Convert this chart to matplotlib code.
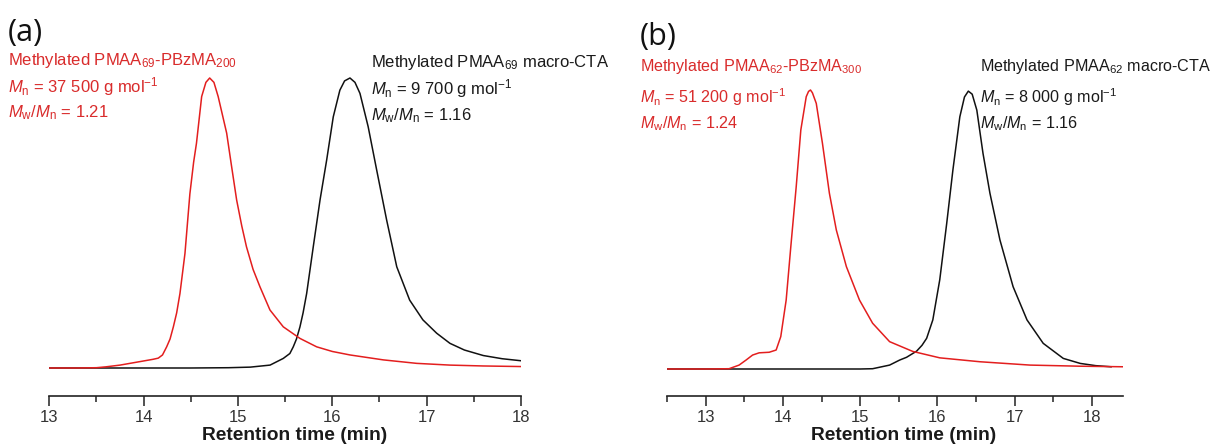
import matplotlib
matplotlib.use("Agg")
import matplotlib.pyplot as plt

# ---- data ----
a_red_t = [13.0, 13.3, 13.5, 13.6, 13.75, 13.96, 14.1, 14.155, 14.2, 14.244, 14.28, 14.315,
           14.35, 14.385, 14.438, 14.49, 14.53, 14.56, 14.615, 14.66, 14.70, 14.745, 14.79,
           14.83, 14.88, 14.93, 14.986, 15.04, 15.09, 15.16, 15.233, 15.339, 15.48, 15.657,
           15.834, 16.0, 16.187, 16.54, 16.894, 17.247, 17.6, 18.0]
a_red_y = [0, 0, 0.001, 0.004, 0.01, 0.022, 0.03, 0.034, 0.045, 0.073, 0.10, 0.142,
           0.19, 0.257, 0.395, 0.60, 0.71, 0.775, 0.936, 0.985, 1.0, 0.985, 0.936,
           0.88, 0.81, 0.70, 0.579, 0.49, 0.418, 0.34, 0.28, 0.20, 0.142, 0.102,
           0.073, 0.057, 0.045, 0.028, 0.016, 0.01, 0.007, 0.005]

a_blk_t = [13.0, 14.5, 14.9, 15.13, 15.34, 15.48, 15.55, 15.586, 15.62, 15.657, 15.69, 15.728,
           15.798, 15.87, 15.94, 16.01, 16.08, 16.13, 16.187, 16.24, 16.293, 16.38, 16.47,
           16.576, 16.683, 16.82, 16.96, 17.106, 17.247, 17.4, 17.6, 17.8, 18.0]
a_blk_y = [0, 0, 0.001, 0.003, 0.01, 0.033, 0.05, 0.073, 0.1, 0.142, 0.19, 0.257,
           0.418, 0.58, 0.717, 0.866, 0.958, 0.99, 1.0, 0.985, 0.947, 0.832, 0.683,
           0.51, 0.349, 0.234, 0.166, 0.12, 0.085, 0.062, 0.043, 0.032, 0.025]

b_red_t = [12.5, 13.0, 13.3, 13.43, 13.52, 13.605, 13.69, 13.82, 13.91, 13.97, 14.04, 14.1,
           14.17, 14.23, 14.3, 14.33, 14.355, 14.38, 14.43, 14.51, 14.6, 14.69, 14.82, 14.99,
           15.16, 15.38, 15.68, 16.03, 16.55, 17.2, 17.85, 18.4]
b_red_y = [0, 0, 0.001, 0.014, 0.032, 0.05, 0.058, 0.06, 0.068, 0.116, 0.247, 0.438,
           0.653, 0.857, 0.976, 0.995, 1.0, 0.99, 0.952, 0.809, 0.63, 0.498, 0.367, 0.247,
           0.164, 0.098, 0.063, 0.04, 0.026, 0.014, 0.01, 0.008]

b_blk_t = [12.5, 15.0, 15.16, 15.38, 15.51, 15.6, 15.73, 15.8, 15.86, 15.94, 16.03, 16.12,
           16.2, 16.29, 16.35, 16.4, 16.45, 16.51, 16.59, 16.68, 16.81, 16.98, 17.16, 17.37,
           17.63, 17.85, 18.05, 18.25]
b_blk_y = [0, 0, 0.001, 0.014, 0.032, 0.042, 0.064, 0.085, 0.11, 0.176, 0.32, 0.522,
           0.713, 0.904, 0.975, 0.996, 0.985, 0.928, 0.773, 0.63, 0.462, 0.295, 0.176, 0.092,
           0.038, 0.02, 0.012, 0.008]

a_ticks = [13, 14, 15, 16, 17, 18]
b_ticks = [13, 14, 15, 16, 17, 18]
xlabel = "Retention time (min)"

a_red_lines = [r"Methylated PMAA$_{69}$-PBzMA$_{200}$",
               r"$M_{\rm n}$ = 37 500 g mol$^{-1}$",
               r"$M_{\rm w}$/$M_{\rm n}$ = 1.21"]
a_blk_lines = [r"Methylated PMAA$_{69}$ macro-CTA",
               r"$M_{\rm n}$ = 9 700 g mol$^{-1}$",
               r"$M_{\rm w}$/$M_{\rm n}$ = 1.16"]
b_red_lines = [r"Methylated PMAA$_{62}$-PBzMA$_{300}$",
               r"$M_{\rm n}$ = 51 200 g mol$^{-1}$",
               r"$M_{\rm w}$/$M_{\rm n}$ = 1.24"]
b_blk_lines = [r"Methylated PMAA$_{62}$ macro-CTA",
               r"$M_{\rm n}$ = 8 000 g mol$^{-1}$",
               r"$M_{\rm w}$/$M_{\rm n}$ = 1.16"]

# ---- style ----
plt.rcParams['font.family'] = ['Liberation Sans', 'DejaVu Sans']
plt.rcParams['mathtext.fontset'] = 'custom'
plt.rcParams['mathtext.rm'] = 'Liberation Sans'
plt.rcParams['mathtext.it'] = 'Liberation Sans:italic'
plt.rcParams['mathtext.bf'] = 'Liberation Sans:bold'

RED_LINE = '#E31E1E'
RED_TXT = '#D92B2B'
BLK_TXT = '#1A1A1A'

W, H = 1212, 448
fig = plt.figure(figsize=(W / 100, H / 100), dpi=100)

def px_axes(x0, x1, ytop, ybot):
    return fig.add_axes([x0 / W, 1 - ybot / H, (x1 - x0) / W, (ybot - ytop) / H])

def style_axes(ax, xlim, ticks, base_px, peak_px, ytop, ybot, label_x):
    ax.set_xlim(*xlim)
    h = base_px - peak_px
    ax.set_ylim(-(ybot - base_px) / h, (base_px - ytop) / h)
    for s in ['left', 'right', 'top']:
        ax.spines[s].set_visible(False)
    ax.spines['bottom'].set_linewidth(1.2)
    ax.spines['bottom'].set_color('#222222')
    ax.set_yticks([])
    ax.set_xticks(ticks)
    ax.set_xticks([t + 0.5 for t in range(int(xlim[0]), int(xlim[1]) + 1)
                   if xlim[0] <= t + 0.5 <= xlim[1]], minor=True)
    ax.tick_params(axis='x', which='major', direction='out', length=7, width=1.1,
                   labelsize=12, labelcolor='#333333', color='#222222', pad=3)
    ax.tick_params(axis='x', which='minor', direction='out', length=4, width=1.1,
                   color='#222222')
    ax.set_xlabel(xlabel, fontsize=13.8, fontweight='bold', color='#1A1A1A')
    ax.xaxis.set_label_coords(label_x, -0.092)
    ax.patch.set_alpha(0)

ytop, ybot = 60, 396

# panel (a)
axa = px_axes(49.3, 521.0, ytop, ybot)
axa.plot(a_blk_t, a_blk_y, color='#111111', lw=1.1)
axa.plot(a_red_t, a_red_y, color=RED_LINE, lw=1.1)
style_axes(axa, (13, 18), a_ticks, 368, 78, ytop, ybot, 0.521)

# panel (b)
axb = px_axes(667.3, 1122.7, ytop, ybot)
axb.plot(b_blk_t, b_blk_y, color='#111111', lw=1.1)
axb.plot(b_red_t, b_red_y, color=RED_LINE, lw=1.1)
style_axes(axb, (12.5, 18.4), b_ticks, 369, 90, ytop, ybot, 0.52)

# ---- texts (figure pixel coordinates) ----
def ftext(x, y, s, **kw):
    fig.text(x / W, 1 - y / H, s, va='center', ha='left', **kw)

ftext(8, 33, "(a)", fontsize=22, color='#111111', family=['Open Sans', 'DejaVu Sans'])
ftext(640, 37, "(b)", fontsize=22, color='#111111', family=['Open Sans', 'DejaVu Sans'])

for s, y in zip(a_red_lines, [60, 87, 113]):
    ftext(8, y, s, fontsize=12, color=RED_TXT)
for s, y in zip(a_blk_lines, [62, 89, 116]):
    ftext(371, y, s, fontsize=12, color=BLK_TXT)
for s, y in zip(b_red_lines, [67, 97, 124]):
    ftext(640, y, s, fontsize=11.6, color=RED_TXT)
for s, y in zip(b_blk_lines, [67, 97, 124]):
    ftext(980, y, s, fontsize=11.6, color=BLK_TXT)

fig.savefig("out.png", dpi=100)
